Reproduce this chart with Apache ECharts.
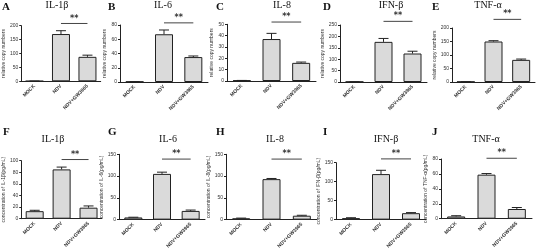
<!DOCTYPE html>
<html>
<head>
<meta charset="utf-8">
<script src="https://cdn.jsdelivr.net/npm/echarts@6/dist/echarts.min.js"></script>
<style>
    html, body {margin: 0; padding: 0; background: #fff;}
    #main {width: 542px; height: 251px;}
</style>
</head>
<body>
<div id="main"></div>
<script>
// data
var categories = ['MOCK', 'NDV', 'NDV+GW3965'];
var panelLetters = ['A', 'B', 'C', 'D', 'E', 'F', 'G', 'H', 'I', 'J'];
var panelTitles = ['IL-1β', 'IL-6', 'IL-8', 'IFN-β', 'TNF-α', 'IL-1β', 'IL-6', 'IL-8', 'IFN-β', 'TNF-α'];
var yNames = ['relative copy numbers', 'relative copy numbers', 'relative copy numbers',
    'relative copy numbers', 'relative copy numbers',
    'concentration of IL-1β(pg/mL)', 'concentration of IL-6(pg/mL)', 'concentration of IL-8(pg/mL)',
    'concentration of IFN-β(pg/mL)', 'concentration of TNF-α(pg/mL)'];
var meanValues = [
    [1, 170, 88], [0.5, 67, 35], [0.5, 37, 16], [1, 176, 125], [1, 150, 82],
    [13, 85, 19], [5, 105, 20], [3, 93, 9], [4, 120, 17], [3, 59, 13]
];
var errValues = [
    [0, 12, 6], [0, 6, 1.5], [0, 5, 0.7], [0, 15, 10], [0, 3, 3],
    [1.5, 4, 3], [0.5, 4, 2], [0.5, 1.5, 1], [1, 10, 1.5], [1, 1.5, 2]
];
var yMax = [200, 80, 50, 250, 200, 100, 150, 150, 150, 80];
var yStep = [50, 20, 10, 50, 50, 20, 50, 50, 50, 20];
// height of the "**" bracket, in axis units
var sigLevel = [208, 83, 52, 266, 232, 102, 139, 139, 160, 81];

// layout: left, top, width, height of each plot
var gridBox = [
    [12.7, 25.7, 88, 55.6], [120, 25, 88, 57], [227, 24.3, 89, 56.7], [340, 25, 87, 57], [452, 28, 83, 54],
    [11, 160.7, 91, 58], [119, 154.3, 86, 69], [226, 154.3, 91, 66], [336, 162.7, 90, 57.6], [441, 159, 91, 59.7]
];
var letterPos = [[2, 2], [108, 2], [216, 2], [323, 2], [432, 2], [3, 127], [108, 127], [216, 127], [323, 127], [432, 127]];
var titlePos = [[57, 0], [163, 0], [282, 0], [391, 0], [488, 0], [53, 134], [168, 134], [275, 134], [386, 134], [486, 134]];

function renderErr(params, api) {
    var x = api.value(0), m = api.value(1), e = api.value(2);
    var p0 = api.coord([x, m]);
    var p1 = api.coord([x, m + e]);
    return {
        type: 'group',
        children: [
            {type: 'line', shape: {x1: p0[0], y1: p0[1], x2: p1[0], y2: p1[1]}, style: {stroke: '#222', lineWidth: 1}},
            {type: 'line', shape: {x1: p1[0] - 5, y1: p1[1], x2: p1[0] + 5, y2: p1[1]}, style: {stroke: '#222', lineWidth: 1}}
        ]
    };
}

function renderSig(params, api) {
    var a = api.coord([api.value(0), api.value(2)]);
    var b = api.coord([api.value(1), api.value(2)]);
    return {
        type: 'group',
        children: [
            {type: 'line', shape: {x1: a[0], y1: a[1], x2: b[0], y2: b[1]}, style: {stroke: '#444', lineWidth: 1}},
            {
                type: 'text',
                style: {
                    text: '**', x: (a[0] + b[0]) / 2, y: a[1] - 1, align: 'center', verticalAlign: 'bottom',
                    font: 'bold 8px "DejaVu Sans"', fill: '#333'
                }
            }
        ]
    };
}

var grids = [], xAxes = [], yAxes = [], series = [], graphics = [];
for (var i = 0; i < 10; i++) {
    var g = gridBox[i];
    grids.push({left: g[0], top: g[1], width: g[2], height: g[3], containLabel: false});
    xAxes.push({
        type: 'category', gridIndex: i, data: categories,
        axisLine: {lineStyle: {color: '#222', width: 1}},
        axisTick: {alignWithLabel: true, length: 2, lineStyle: {color: '#222'}},
        axisLabel: {rotate: 45, fontSize: 5, color: '#333', margin: 4, fontWeight: 'bold', fontFamily: 'Arial'}
    });
    yAxes.push({
        type: 'value', gridIndex: i, min: 0, max: yMax[i], interval: yStep[i],
        name: yNames[i], nameLocation: 'middle', nameGap: 9,
        nameTextStyle: {fontSize: 5, color: '#333', fontFamily: 'Arial'},
        axisLine: {show: true, lineStyle: {color: '#222', width: 1}},
        axisTick: {show: true, length: 2, lineStyle: {color: '#222'}},
        axisLabel: {fontSize: 5, color: '#333', margin: 3, fontFamily: 'Arial'},
        splitLine: {show: false}
    });
    series.push({
        type: 'bar', xAxisIndex: i, yAxisIndex: i, barWidth: 18,
        data: meanValues[i],
        itemStyle: {color: '#dadada', borderColor: '#222', borderWidth: 1}
    });
    var errData = [];
    for (var j = 0; j < 3; j++) {
        errData.push([j, meanValues[i][j], errValues[i][j]]);
    }
    series.push({
        type: 'custom', xAxisIndex: i, yAxisIndex: i, renderItem: renderErr,
        data: errData, clip: false, z: 3
    });
    series.push({
        type: 'custom', xAxisIndex: i, yAxisIndex: i, renderItem: renderSig,
        data: [[1, 2, sigLevel[i]]], clip: false, z: 3
    });
    graphics.push({
        type: 'text', left: letterPos[i][0], top: letterPos[i][1],
        style: {text: panelLetters[i], font: 'bold 11px "Liberation Serif"', fill: '#111'}
    });
    graphics.push({
        type: 'text', x: titlePos[i][0], y: titlePos[i][1],
        style: {text: panelTitles[i], font: '10px "Liberation Serif"', fill: '#111', align: 'center', verticalAlign: 'top'}
    });
}

var jOption = {
    animation: false,
    grid: grids,
    xAxis: xAxes,
    yAxis: yAxes,
    series: series,
    graphic: graphics
};

var myChart = echarts.init(document.getElementById('main'));
myChart.setOption(jOption);
</script>
</body>
</html>
